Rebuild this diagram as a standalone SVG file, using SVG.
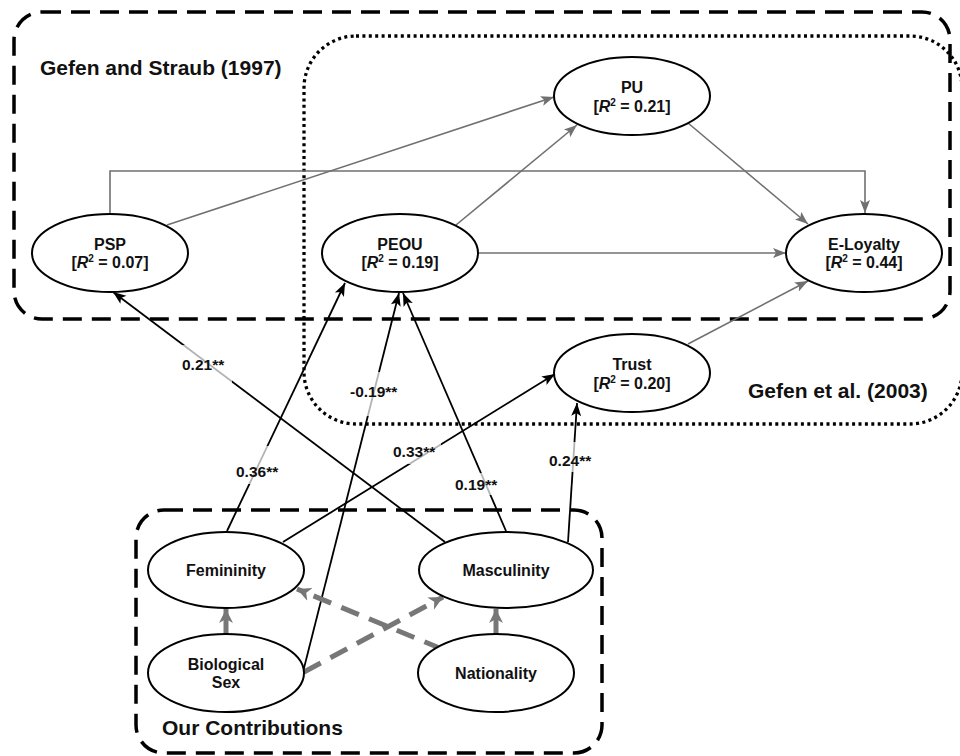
<svg xmlns="http://www.w3.org/2000/svg" width="960" height="756" viewBox="0 0 960 756">
<style>
text{font-family:"Liberation Sans",Arial,sans-serif;font-weight:bold;fill:#111}
.nt{font-size:16px;text-anchor:middle}
.title{font-size:21px}
.lbl{font-size:15.5px}
.node{fill:#fff;stroke:#000;stroke-width:2}
.dash{fill:none;stroke:#000;stroke-width:3.5;stroke-dasharray:19 10}
.dot{fill:none;stroke:#000;stroke-width:3.3;stroke-dasharray:3 3.4}
.g{fill:none;stroke:#707070;stroke-width:1.6;marker-end:url(#ag)}
.k{fill:none;stroke:#000;stroke-width:1.8;marker-end:url(#ak)}
.gt{fill:none;stroke:#777;stroke-width:5;marker-end:url(#agt)}
.gd{fill:none;stroke:#777;stroke-width:5;stroke-dasharray:19 11;marker-end:url(#agt)}
.bg{fill:#fff;fill-opacity:0.7}
</style>
<defs>
<marker id="ag" markerUnits="userSpaceOnUse" markerWidth="14" markerHeight="12" refX="13" refY="5" orient="auto" viewBox="0 0 14 10"><path d="M0,0 L13,5 L0,10 L3,5 Z" fill="#707070"/></marker>
<marker id="ak" markerUnits="userSpaceOnUse" markerWidth="14" markerHeight="12" refX="13" refY="5" orient="auto" viewBox="0 0 14 10"><path d="M0,0 L13,5 L0,10 L3,5 Z" fill="#000"/></marker>
<marker id="agt" markerUnits="userSpaceOnUse" markerWidth="16" markerHeight="16" refX="14" refY="7" orient="auto" viewBox="0 0 16 14"><path d="M0,0 L14,7 L0,14 L4,7 Z" fill="#777"/></marker>
</defs>

<g id="boxes">
<rect class="dash" x="14" y="12" width="936" height="307" rx="28"/>
<rect class="dot" x="304" y="36" width="658" height="388" rx="52"/>
<rect class="dash" x="136" y="510" width="466" height="243" rx="28"/>
<text class="title" x="40" y="75">Gefen and Straub (1997)</text>
<text class="title" x="748" y="398">Gefen et al. (2003)</text>
<text class="title" x="162" y="735">Our Contributions</text>
</g>

<g id="connectors">
<path class="g" d="M167,225 L554,97"/>
<path class="g" d="M110,214 V171 H865 V213"/>
<path class="g" d="M456,225 L577,125"/>
<path class="g" d="M688,123 L808,224"/>
<path class="g" d="M477,253 L786,253"/>
<path class="g" d="M688,344 L808,281"/>
<path class="k" d="M445,542 L113,292"/>
<path class="k" d="M227,531 L345,283"/>
<path class="k" d="M303,672 L399,293"/>
<path class="k" d="M506,531 L403,293"/>
<path class="k" d="M283,542 L555,374"/>
<path class="k" d="M568,542 L577,403"/>
<path class="gt" d="M226,634 L226,609"/>
<path class="gt" d="M496,634 L496,609"/>
<path class="gd" d="M304,672 L443,597"/>
<path class="gd" d="M442,649 L297,589"/>
<rect class="bg" x="180" y="345" width="52" height="38"/>
<rect class="bg" x="234" y="446" width="50" height="38"/>
<rect class="bg" x="348" y="372" width="56" height="44"/>
<rect class="bg" x="391" y="440" width="50" height="24"/>
<rect class="bg" x="453" y="473" width="50" height="22"/>
<rect class="bg" x="547" y="442" width="50" height="30"/>
<text class="lbl" x="182" y="370">0.21**</text>
<text class="lbl" x="236" y="477">0.36**</text>
<text class="lbl" x="350" y="397">-0.19**</text>
<text class="lbl" x="393" y="457">0.33**</text>
<text class="lbl" x="455" y="490">0.19**</text>
<text class="lbl" x="549" y="466">0.24**</text>
</g>

<g id="PSP"><ellipse class="node" cx="110" cy="253" rx="78" ry="39"/>
<text class="nt" x="110" y="250">PSP</text>
<text class="nt" x="110" y="268">[<tspan font-style="italic">R</tspan><tspan dy="-6" font-size="10">2</tspan><tspan dy="6"> = 0.07]</tspan></text></g>

<g id="PEOU"><ellipse class="node" cx="400" cy="253" rx="78" ry="39"/>
<text class="nt" x="400" y="250">PEOU</text>
<text class="nt" x="400" y="268">[<tspan font-style="italic">R</tspan><tspan dy="-6" font-size="10">2</tspan><tspan dy="6"> = 0.19]</tspan></text></g>

<g id="PU"><ellipse class="node" cx="632" cy="96" rx="78" ry="39"/>
<text class="nt" x="632" y="93">PU</text>
<text class="nt" x="632" y="112">[<tspan font-style="italic">R</tspan><tspan dy="-6" font-size="10">2</tspan><tspan dy="6"> = 0.21]</tspan></text></g>

<g id="ELoyalty"><ellipse class="node" cx="864" cy="253" rx="78" ry="39"/>
<text class="nt" x="864" y="250">E-Loyalty</text>
<text class="nt" x="864" y="268">[<tspan font-style="italic">R</tspan><tspan dy="-6" font-size="10">2</tspan><tspan dy="6"> = 0.44]</tspan></text></g>

<g id="Trust"><ellipse class="node" cx="632" cy="373" rx="78" ry="39"/>
<text class="nt" x="632" y="370">Trust</text>
<text class="nt" x="632" y="389">[<tspan font-style="italic">R</tspan><tspan dy="-6" font-size="10">2</tspan><tspan dy="6"> = 0.20]</tspan></text></g>

<g id="Femininity"><ellipse class="node" cx="226" cy="570" rx="78" ry="38"/>
<text class="nt" x="226" y="576">Femininity</text></g>

<g id="Masculinity"><ellipse class="node" cx="506" cy="570" rx="87" ry="38"/>
<text class="nt" x="506" y="576">Masculinity</text></g>

<g id="BiologicalSex"><ellipse class="node" cx="226" cy="673" rx="78" ry="39"/>
<text class="nt" x="226" y="670">Biological</text>
<text class="nt" x="226" y="688">Sex</text></g>

<g id="Nationality"><ellipse class="node" cx="496" cy="673" rx="78" ry="39"/>
<text class="nt" x="496" y="679">Nationality</text></g>
</svg>
